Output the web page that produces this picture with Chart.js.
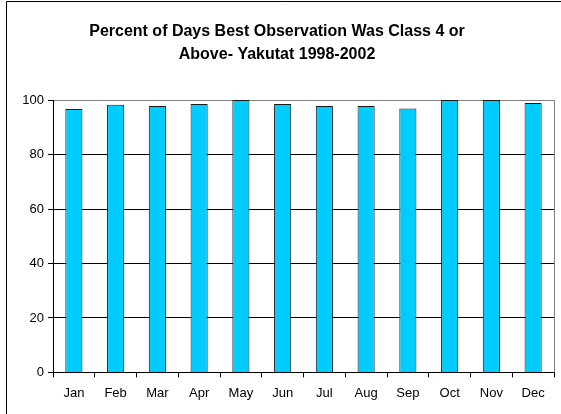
<!DOCTYPE html>
<html>
<head>
<meta charset="utf-8">
<script src="https://cdn.jsdelivr.net/npm/chart.js@4"></script>
<style>
  body { margin: 0; background: #fff; }
  #wrap { width: 561px; height: 414px; }
</style>
</head>
<body>
<div id="wrap"><canvas id="obsChart" width="561" height="414"></canvas></div>
<script>
const months = ["Jan", "Feb", "Mar", "Apr", "May", "Jun", "Jul", "Aug", "Sep", "Oct", "Nov", "Dec"];
const percentClass4 = [96.7, 98.3, 97.8, 98.6, 100, 98.6, 97.8, 97.8, 96.9, 100, 100, 98.9];
const yTicks = [0, 20, 40, 60, 80, 100];

// outer frame plus grey right edge of the plot area
const frame = {
    id: "frame",
    afterDraw(chart) {
        const ctx = chart.ctx;
        const a = chart.chartArea;
        ctx.save();
        ctx.strokeStyle = "#000";
        ctx.lineWidth = 1;
        ctx.beginPath();
        ctx.moveTo(6.5, 414);
        ctx.lineTo(6.5, 1.5);
        ctx.lineTo(561, 1.5);
        ctx.stroke();
        ctx.strokeStyle = "#808080";
        ctx.beginPath();
        ctx.moveTo(Math.round(a.right) + 0.5, a.top);
        ctx.lineTo(Math.round(a.right) + 0.5, a.bottom);
        ctx.stroke();
        ctx.restore();
    }
};

const ctx = document.getElementById("obsChart").getContext("2d");
new Chart(ctx, {
    type: "bar",
    data: {
        labels: months,
        datasets: [{
            data: percentClass4,
            backgroundColor: "#00CCFF",
            borderColor: "#1a1a1a",
            borderWidth: 1,
            barPercentage: 0.41,
            categoryPercentage: 1
        }]
    },
    options: {
        responsive: false,
        animation: false,
        layout: { padding: { left: 0, right: 7, top: 0, bottom: 5 } },
        plugins: {
            legend: { display: false },
            tooltip: { enabled: false },
            title: {
                display: true,
                text: ["Percent of Days Best Observation Was Class 4 or", "Above- Yakutat 1998-2002"],
                color: "#000",
                font: { family: "Arial, 'Liberation Sans'", size: 16, weight: "bold", lineHeight: 1.44 },
                padding: { top: 20, bottom: 34 }
            }
        },
        scales: {
            x: {
                grid: { drawOnChartArea: false, tickLength: 5, tickColor: "#000" },
                border: { color: "#000" },
                ticks: { color: "#000", padding: 8, font: { family: "Arial, 'Liberation Sans'", size: 13 } }
            },
            y: {
                min: 0,
                max: 100,
                afterBuildTicks: s => { s.ticks = yTicks.map(v => ({ value: v })); },
                afterFit: s => { s.width = 53; },
                grid: {
                    color: c => (c.tick && c.tick.value === 100 ? "#808080" : "#000"),
                    tickColor: "#000",
                    tickLength: 5
                },
                border: { color: "#000" },
                ticks: { color: "#000", padding: 4, font: { family: "Arial, 'Liberation Sans'", size: 13 } }
            }
        }
    },
    plugins: [frame]
});
</script>
</body>
</html>
